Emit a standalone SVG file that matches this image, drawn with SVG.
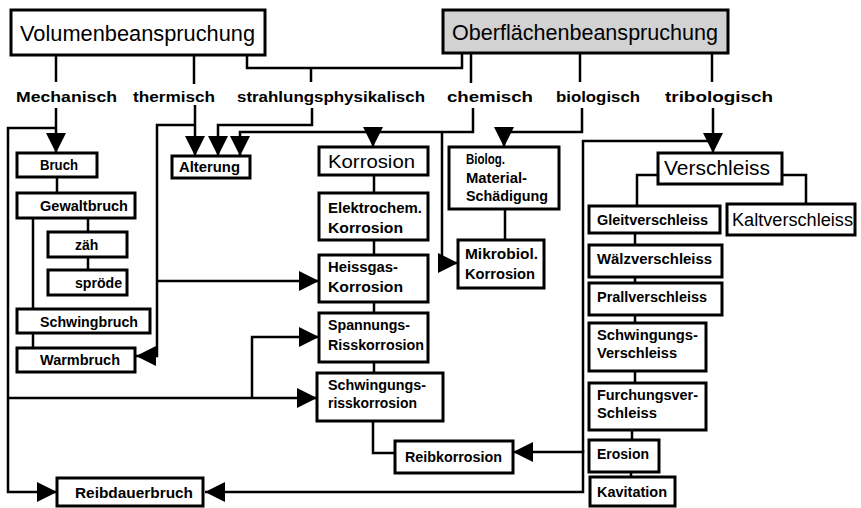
<svg xmlns="http://www.w3.org/2000/svg" width="861" height="508" viewBox="0 0 861 508">
<style>
.box{fill:#fff;stroke:#000;stroke-width:3}
.grey{fill:#d2d2d2}
.t{font-family:"Liberation Sans",Arial,sans-serif;font-weight:bold;font-size:14px;fill:#000}
.r{font-family:"Liberation Sans",Arial,sans-serif;font-weight:normal;fill:#000}
.lab{font-family:"Liberation Sans",Arial,sans-serif;font-weight:bold;font-size:15px;fill:#000}
.c{fill:none;stroke:#000;stroke-width:2.5}
.a{fill:none;stroke:#000;stroke-width:2.5;marker-end:url(#ah)}
</style>
<defs>
<marker id="ah" viewBox="0 0 20 20" markerWidth="20" markerHeight="20" markerUnits="userSpaceOnUse" refX="20" refY="10" orient="auto">
<path d="M0,0 L20,10 L0,20 z" fill="#000"/>
</marker>
</defs>
<rect width="861" height="508" fill="#fff"/>

<g id="connectors">
<path class="c" d="M56,56 V82"/>
<path class="c" d="M194,56 V84"/>
<path class="c" d="M247,56 V68 H462 V53"/>
<path class="c" d="M311,68 V82"/>
<path class="c" d="M471,53 V83"/>
<path class="c" d="M580,53 V82"/>
<path class="c" d="M712,53 V82"/>

<path class="a" d="M56,108 V153"/>
<path class="a" d="M195,105 V156"/>
<path class="a" d="M312,108 V125 H218 V156"/>
<path class="a" d="M473,108 V132 H240 V156"/>
<path class="a" d="M373,132 V147"/>
<path class="a" d="M442,132 V263 H458"/>
<path class="a" d="M582,108 V132 H504 V147"/>
<path class="a" d="M713,108 V153"/>
<path class="a" d="M56,128 H8 V492 H57"/>
<path class="a" d="M195,125 H157 V356 H136"/>
<path class="a" d="M157,281 H319"/>
<path class="a" d="M8,398 H317"/>
<path class="a" d="M252,398 V337 H319"/>
<path class="a" d="M713,141 H583 V452 H513"/>
<path class="a" d="M583,450 V492 H205"/>

<path class="c" d="M57,177 V193"/>
<path class="c" d="M88,218 V232"/>
<path class="c" d="M88,257 V270"/>
<path class="c" d="M33,218 V309"/>
<path class="c" d="M33,333 V348"/>
<path class="c" d="M374,175 V193"/>
<path class="c" d="M374,240 V255"/>
<path class="c" d="M374,302 V313"/>
<path class="c" d="M374,362 V373"/>
<path class="c" d="M373,421 V453 H395"/>
<path class="c" d="M505,209 V240"/>
<path class="c" d="M658,175 H637 V206"/>
<path class="c" d="M782,175 H806 V204"/>
<path class="c" d="M635,233 V245"/>
<path class="c" d="M635,277 V283"/>
<path class="c" d="M635,315 V323"/>
<path class="c" d="M635,371 V383"/>
<path class="c" d="M632,430 V440"/>
<path class="c" d="M631,472 V477"/>
</g>

<g id="labels">
<text class="lab" x="16" y="102" textLength="101" lengthAdjust="spacingAndGlyphs">Mechanisch</text>
<text class="lab" x="133" y="102" textLength="82" lengthAdjust="spacingAndGlyphs">thermisch</text>
<text class="lab" x="237" y="102" textLength="188" lengthAdjust="spacingAndGlyphs">strahlungsphysikalisch</text>
<text class="lab" x="447" y="102" textLength="86" lengthAdjust="spacingAndGlyphs">chemisch</text>
<text class="lab" x="556" y="102" textLength="84" lengthAdjust="spacingAndGlyphs">biologisch</text>
<text class="lab" x="665" y="102" textLength="108" lengthAdjust="spacingAndGlyphs">tribologisch</text>
</g>

<g id="volumenbeanspruchung">
<rect class="box" x="11" y="10" width="254" height="45"/>
<text class="r" x="20" y="41" font-size="22" textLength="235" lengthAdjust="spacingAndGlyphs">Volumenbeanspruchung</text>
</g>
<g id="oberflaechenbeanspruchung">
<rect class="box grey" x="443" y="10" width="285" height="43"/>
<text class="r" x="452" y="40" font-size="22" textLength="266" lengthAdjust="spacingAndGlyphs">Oberflächenbeanspruchung</text>
</g>

<g id="bruch"><rect class="box" x="17" y="153" width="80" height="24"/><text class="t" x="40" y="170" textLength="38" lengthAdjust="spacingAndGlyphs">Bruch</text></g>
<g id="gewaltbruch"><rect class="box" x="17" y="193" width="118" height="25"/><text class="t" x="40" y="211" textLength="88" lengthAdjust="spacingAndGlyphs">Gewaltbruch</text></g>
<g id="zaeh"><rect class="box" x="48" y="232" width="79" height="25"/><text class="t" x="75" y="250">zäh</text></g>
<g id="sproede"><rect class="box" x="48" y="270" width="79" height="25"/><text class="t" x="75" y="288" textLength="47" lengthAdjust="spacingAndGlyphs">spröde</text></g>
<g id="schwingbruch"><rect class="box" x="17" y="309" width="133" height="24"/><text class="t" x="40" y="327" textLength="98" lengthAdjust="spacingAndGlyphs">Schwingbruch</text></g>
<g id="warmbruch"><rect class="box" x="17" y="348" width="118" height="24"/><text class="t" x="40" y="365" textLength="80" lengthAdjust="spacingAndGlyphs">Warmbruch</text></g>
<g id="alterung"><rect class="box" x="172" y="156" width="78" height="22"/><text class="t" x="179" y="172" textLength="61" lengthAdjust="spacingAndGlyphs">Alterung</text></g>

<g id="korrosion"><rect class="box" x="319" y="147" width="109" height="28"/><text class="r" x="328" y="168" font-size="18" textLength="87" lengthAdjust="spacingAndGlyphs">Korrosion</text></g>
<g id="elektrochem"><rect class="box" x="319" y="193" width="109" height="47"/><text class="t" x="328" y="213" textLength="94" lengthAdjust="spacingAndGlyphs">Elektrochem.</text><text class="t" x="328" y="233" textLength="75" lengthAdjust="spacingAndGlyphs">Korrosion</text></g>
<g id="heissgas"><rect class="box" x="319" y="255" width="109" height="47"/><text class="t" x="328" y="272" textLength="70" lengthAdjust="spacingAndGlyphs">Heissgas-</text><text class="t" x="328" y="292" textLength="75" lengthAdjust="spacingAndGlyphs">Korrosion</text></g>
<g id="spannungsrisskorrosion"><rect class="box" x="319" y="313" width="109" height="49"/><text class="t" x="328" y="330" textLength="82" lengthAdjust="spacingAndGlyphs">Spannungs-</text><text class="t" x="328" y="350" textLength="96" lengthAdjust="spacingAndGlyphs">Risskorrosion</text></g>
<g id="schwingungsrisskorrosion"><rect class="box" x="317" y="373" width="126" height="48"/><text class="t" x="328" y="390" textLength="98" lengthAdjust="spacingAndGlyphs">Schwingungs-</text><text class="t" x="328" y="408" textLength="89" lengthAdjust="spacingAndGlyphs">risskorrosion</text></g>
<g id="reibkorrosion"><rect class="box" x="395" y="441" width="118" height="32"/><text class="t" x="405" y="462" textLength="97" lengthAdjust="spacingAndGlyphs">Reibkorrosion</text></g>

<g id="biolog"><rect class="box" x="449" y="147" width="110" height="62"/><text class="t" x="466" y="164" textLength="39" lengthAdjust="spacingAndGlyphs">Biolog.</text><text class="t" x="466" y="183" textLength="61" lengthAdjust="spacingAndGlyphs">Material-</text><text class="t" x="466" y="201" textLength="82" lengthAdjust="spacingAndGlyphs">Schädigung</text></g>
<g id="mikrobiol"><rect class="box" x="458" y="240" width="86" height="48"/><text class="t" x="465" y="259" textLength="73" lengthAdjust="spacingAndGlyphs">Mikrobiol.</text><text class="t" x="465" y="279" textLength="70" lengthAdjust="spacingAndGlyphs">Korrosion</text></g>

<g id="verschleiss"><rect class="box" x="658" y="153" width="124" height="31"/><text class="r" x="664" y="175" font-size="20" textLength="106" lengthAdjust="spacingAndGlyphs">Verschleiss</text></g>
<g id="gleitverschleiss"><rect class="box" x="589" y="206" width="131" height="27"/><text class="t" x="597" y="225" textLength="111" lengthAdjust="spacingAndGlyphs">Gleitverschleiss</text></g>
<g id="kaltverschleiss"><rect class="box" x="727" y="204" width="128" height="31"/><text class="r" x="732" y="226" font-size="18" textLength="121" lengthAdjust="spacingAndGlyphs">Kaltverschleiss</text></g>
<g id="waelzverschleiss"><rect class="box" x="589" y="245" width="133" height="32"/><text class="t" x="597" y="264" textLength="115" lengthAdjust="spacingAndGlyphs">Wälzverschleiss</text></g>
<g id="prallverschleiss"><rect class="box" x="589" y="283" width="133" height="32"/><text class="t" x="597" y="302" textLength="110" lengthAdjust="spacingAndGlyphs">Prallverschleiss</text></g>
<g id="schwingungsverschleiss"><rect class="box" x="589" y="323" width="117" height="48"/><text class="t" x="597" y="340" textLength="101" lengthAdjust="spacingAndGlyphs">Schwingungs-</text><text class="t" x="597" y="358" textLength="80" lengthAdjust="spacingAndGlyphs">Verschleiss</text></g>
<g id="furchungsverschleiss"><rect class="box" x="589" y="383" width="117" height="47"/><text class="t" x="597" y="400" textLength="101" lengthAdjust="spacingAndGlyphs">Furchungsver-</text><text class="t" x="597" y="418" textLength="60" lengthAdjust="spacingAndGlyphs">Schleiss</text></g>
<g id="erosion"><rect class="box" x="589" y="440" width="70" height="32"/><text class="t" x="597" y="459" textLength="52" lengthAdjust="spacingAndGlyphs">Erosion</text></g>
<g id="kavitation"><rect class="box" x="590" y="477" width="85" height="29"/><text class="t" x="597" y="497" textLength="70" lengthAdjust="spacingAndGlyphs">Kavitation</text></g>
<g id="reibdauerbruch"><rect class="box" x="57" y="478" width="146" height="28"/><text class="t" x="75" y="498" textLength="118" lengthAdjust="spacingAndGlyphs">Reibdauerbruch</text></g>
</svg>
